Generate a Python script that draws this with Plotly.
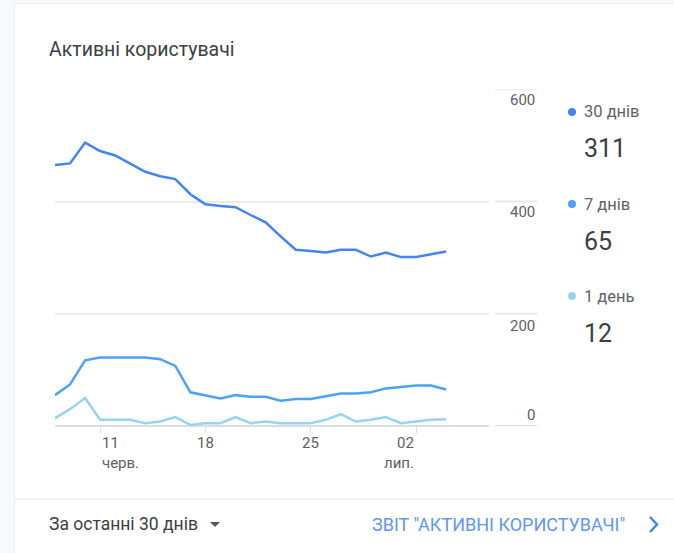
import plotly.graph_objects as go

W, H = 674, 553

dates = ["2023-06-08", "2023-06-09", "2023-06-10", "2023-06-11", "2023-06-12", "2023-06-13",
         "2023-06-14", "2023-06-15", "2023-06-16", "2023-06-17", "2023-06-18", "2023-06-19",
         "2023-06-20", "2023-06-21", "2023-06-22", "2023-06-23", "2023-06-24", "2023-06-25",
         "2023-06-26", "2023-06-27", "2023-06-28", "2023-06-29", "2023-06-30", "2023-07-01",
         "2023-07-02", "2023-07-03", "2023-07-04"]
users_30d = [465, 468, 505, 490, 482, 468, 453, 445, 440, 413, 395, 392, 390, 376, 363,
             338, 314, 312, 309, 314, 314, 302, 309, 301, 301, 306, 311]
users_7d = [55, 74, 117, 122, 122, 122, 122, 119, 107, 60, 55, 49, 55, 52, 52,
            45, 48, 48, 53, 58, 58, 60, 67, 69, 72, 72, 65]
users_1d = [14, 30, 50, 11, 11, 11, 5, 8, 16, 2, 5, 5, 16, 5, 8,
            5, 5, 5, 11, 21, 8, 11, 16, 5, 8, 11, 12]

series_names = ["30 днів", "7 днів", "1 день"]
series_totals = ["311", "65", "12"]
series_colors = ["#4285f4", "#4aa3f7", "#96d5ee"]

x_tick_vals = ["2023-06-11", "2023-06-18", "2023-06-25", "2023-07-02"]
x_tick_text = ["11<br>черв.", "18", "25", "02<br>лип."]
y_tick_vals = [0, 200, 400, 600]

title_text = "Активні користувачі"
period_text = "За останні 30 днів"
link_text = "ЗВІТ \"АКТИВНІ КОРИСТУВАЧІ\""

FONT = "Roboto, Arial, sans-serif"


def px(x):
    return x / W


def py(y):
    return 1 - y / H


fig = go.Figure()
for vals, name, col in zip([users_30d, users_7d, users_1d], series_names, series_colors):
    fig.add_trace(go.Scatter(x=dates, y=vals, mode="lines", name=name,
                             line=dict(color=col, width=2.5), cliponaxis=False,
                             hoverinfo="skip"))

shapes = []
# card background
shapes.append(dict(type="rect", xref="paper", yref="paper", x0=px(14), x1=1.01,
                   y0=-0.01, y1=py(3), fillcolor="#eceef0", line=dict(width=0), layer="below"))
shapes.append(dict(type="rect", xref="paper", yref="paper", x0=px(15), x1=1.01,
                   y0=-0.01, y1=py(4), fillcolor="#ffffff", line=dict(width=0), layer="below"))
# divider
shapes.append(dict(type="line", xref="paper", yref="paper", x0=px(15), x1=1,
                   y0=py(499), y1=py(499), line=dict(color="#e6e6e6", width=1)))
# y tick segments on the right
for v in y_tick_vals:
    shapes.append(dict(type="line", xref="paper", yref="y", x0=px(495), x1=px(537),
                       y0=v, y1=v, line=dict(color="#e8e8e8" if v else "#dddddd", width=2)))
# legend dots
leg_y = [112, 204, 296]
for yy, col in zip(leg_y, series_colors):
    shapes.append(dict(type="circle", xref="paper", yref="paper",
                       x0=px(568), x1=px(576), y0=py(yy - 4), y1=py(yy + 4),
                       fillcolor=col, line=dict(width=0)))
# dropdown triangle
shapes.append(dict(type="path", xref="paper", yref="paper",
                   path=f"M {px(210)},{py(522)} L {px(220)},{py(522)} L {px(215)},{py(527)} Z",
                   fillcolor="#555555", line=dict(width=0)))
# chevron
shapes.append(dict(type="path", xref="paper", yref="paper",
                   path=f"M {px(650)},{py(517)} L {px(657)},{py(524.5)} L {px(650)},{py(532)}",
                   line=dict(color="#4285f4", width=2.5)))

ann = []
ann.append(dict(text=title_text, x=px(47), y=py(49), xref="paper", yref="paper",
                xanchor="left", yanchor="middle", showarrow=False,
                font=dict(family=FONT, size=19.5, color="#3c4043")))
for v, yy in zip(y_tick_vals, [415, 326, 212, 100]):
    ann.append(dict(text=str(v), x=px(537), y=py(yy), xref="paper", yref="paper",
                    xanchor="right", yanchor="middle", showarrow=False,
                    font=dict(family=FONT, size=15, color="#616161")))
# x tick labels (first left-aligned, last right-aligned)
n = len(x_tick_vals)
for i, (xv, t) in enumerate(zip(x_tick_vals, x_tick_text)):
    anchor = "left" if i == 0 else ("right" if i == n - 1 else "center")
    ann.append(dict(text=t, x=xv, y=py(432), xref="x", yref="paper",
                    xanchor=anchor, yanchor="top", align=anchor, showarrow=False,
                    font=dict(family=FONT, size=15, color="#616161")))
for name, tot, yy in zip(series_names, series_totals, leg_y):
    ann.append(dict(text=name, x=px(582), y=py(yy), xref="paper", yref="paper",
                    xanchor="left", yanchor="middle", showarrow=False,
                    font=dict(family=FONT, size=16.5, color="#5f6368")))
    ann.append(dict(text=tot, x=px(582), y=py(yy + 37), xref="paper", yref="paper",
                    xanchor="left", yanchor="middle", showarrow=False,
                    font=dict(family=FONT, size=25, color="#3c4043")))
ann.append(dict(text=period_text, x=px(47), y=py(524), xref="paper", yref="paper",
                xanchor="left", yanchor="middle", showarrow=False,
                font=dict(family=FONT, size=17.5, color="#3c4043")))
ann.append(dict(text=link_text, x=px(627), y=py(524), xref="paper", yref="paper",
                xanchor="right", yanchor="middle", showarrow=False,
                font=dict(family=FONT, size=18, color="#5e97f6")))

fig.update_layout(
    width=W, height=H, margin=dict(l=0, r=0, t=0, b=0),
    paper_bgcolor="#f8f9fa", plot_bgcolor="rgba(0,0,0,0)",
    showlegend=False, shapes=shapes, annotations=ann,
    font=dict(family=FONT),
    xaxis=dict(domain=[px(55), px(489)], type="date",
               range=["2023-06-08", "2023-07-06 20:24"],
               tickvals=x_tick_vals, showticklabels=False,
               showgrid=False, zeroline=False, showline=False,
               ticks="outside", ticklen=6, tickcolor="#dddddd", tickwidth=1),
    yaxis=dict(domain=[py(426), py(89.3)], range=[0, 600],
               tickvals=y_tick_vals, showticklabels=False,
               showgrid=True, gridcolor="#ebebeb", gridwidth=2,
               zeroline=True, zerolinecolor="#dddddd", zerolinewidth=2),
)

fig.write_html("out.html", config={"displayModeBar": False},
               post_script="document.body.style.margin='0';document.body.style.background='#f8f9fa';")
